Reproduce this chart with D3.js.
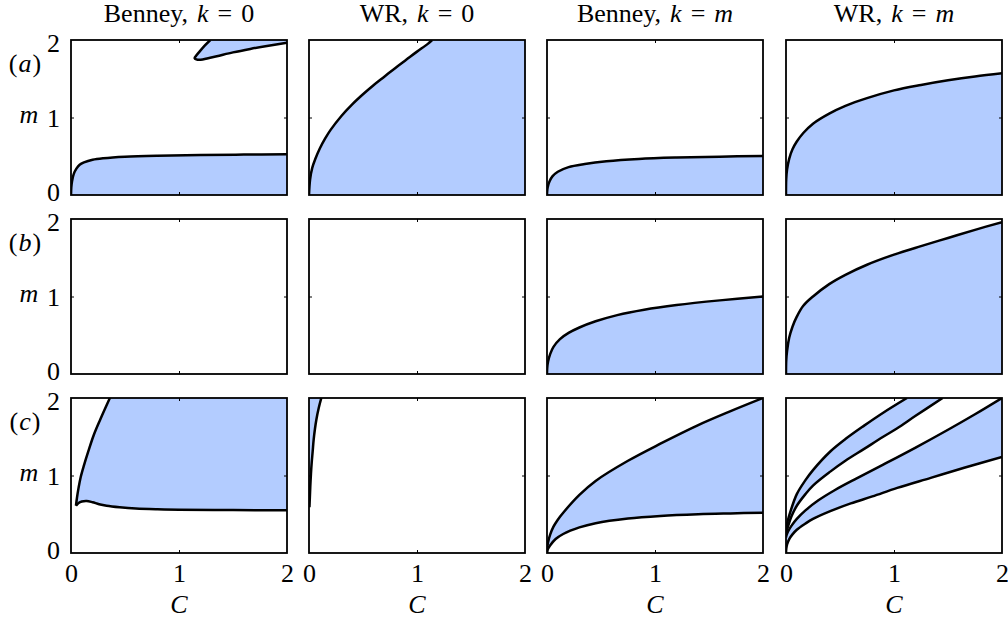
<!DOCTYPE html>
<html><head><meta charset="utf-8">
<script src="https://cdn.jsdelivr.net/npm/d3@7"></script>
<style>
body{margin:0;background:#fff}
text{font-family:"Liberation Serif","Times New Roman",serif;fill:#000}
</style>
</head><body>
<svg id="chart" width="1008" height="628"></svg>
<script>
// ---- labels ----
const modelNames = ["Benney", "WR", "Benney", "WR"];
const kValues = ["0", "0", "m", "m"];
const rowLetters = ["a", "b", "c"];
const tickValues = [0, 1, 2];
const tickLabels = ["0", "1", "2"];
const xLabel = "C";
const yLabel = "m";

// ---- boundary curves, points are [C, m] ----
// row (a)
const aBenneyK0Lower = [[0,0],[0.003,0.1],[0.01,0.18],[0.025,0.27],[0.05,0.34],[0.08,0.39],[0.12,0.42],[0.2,0.455],[0.3,0.475],[0.5,0.495],[0.8,0.508],[1.2,0.516],[1.6,0.521],[2.0,0.525]];
const aBenneyK0Tongue = [[1.29,2.0],[1.24,1.93],[1.19,1.85],[1.155,1.79],[1.145,1.765],[1.16,1.75],[1.2,1.745],[1.27,1.765],[1.35,1.79],[1.5,1.84],[1.66,1.885],[1.8,1.92],[2.0,1.965]];
const aWRK0 = [[0,0],[0.01,0.2],[0.03,0.35],[0.06,0.47],[0.1,0.6],[0.15,0.73],[0.2,0.84],[0.3,1.02],[0.4,1.17],[0.5,1.3],[0.6,1.42],[0.7,1.53],[0.8,1.64],[0.9,1.745],[1.0,1.85],[1.1,1.95],[1.14,2.0]];
const aBenneyKm = [[0,0],[0.003,0.07],[0.01,0.12],[0.025,0.18],[0.05,0.24],[0.1,0.3],[0.2,0.36],[0.35,0.4],[0.55,0.435],[0.85,0.465],[1.2,0.483],[1.6,0.495],[2.0,0.503]];
const aWRKm = [[0,0],[0.002,0.2],[0.01,0.33],[0.03,0.47],[0.06,0.59],[0.1,0.69],[0.16,0.8],[0.25,0.92],[0.4,1.05],[0.55,1.15],[0.75,1.25],[1.0,1.35],[1.25,1.42],[1.5,1.48],[1.75,1.53],[2.0,1.57]];
// row (b)
const bBenneyKm = [[0,0],[0.002,0.08],[0.01,0.16],[0.03,0.26],[0.06,0.35],[0.12,0.45],[0.2,0.53],[0.3,0.6],[0.45,0.68],[0.65,0.76],[0.9,0.83],[1.2,0.89],[1.6,0.95],[2.0,1.0]];
const bWRKm = [[0,0],[0.002,0.17],[0.01,0.3],[0.03,0.47],[0.06,0.61],[0.1,0.74],[0.16,0.88],[0.25,1.0],[0.4,1.16],[0.55,1.28],[0.75,1.41],[1.0,1.54],[1.25,1.65],[1.5,1.755],[1.75,1.86],[2.0,1.96]];
// row (c)
const cBenneyK0Left = [[0.046,0.61],[0.055,0.71],[0.07,0.84],[0.09,0.98],[0.12,1.13],[0.16,1.31],[0.21,1.52],[0.27,1.72],[0.36,2.0]];
const cBenneyK0Lower = [[0.046,0.61],[0.07,0.645],[0.1,0.665],[0.145,0.672],[0.2,0.655],[0.26,0.63],[0.33,0.61],[0.45,0.59],[0.6,0.573],[0.8,0.563],[1.0,0.558],[1.5,0.554],[2.0,0.552]];
const cWRK0 = [[0.004,0.59],[0.008,0.72],[0.012,0.86],[0.018,1.02],[0.025,1.165],[0.034,1.31],[0.043,1.46],[0.055,1.6],[0.068,1.72],[0.09,1.87],[0.114,2.0]];
const cBenneyKmUpper = [[0,0],[0.002,0.07],[0.01,0.14],[0.03,0.24],[0.06,0.34],[0.1,0.43],[0.15,0.52],[0.3,0.75],[0.45,0.93],[0.75,1.19],[1.05,1.41],[1.4,1.65],[1.7,1.83],[2.0,2.0]];
const cBenneyKmLower = [[0,0],[0.003,0.03],[0.01,0.055],[0.03,0.1],[0.08,0.18],[0.15,0.245],[0.3,0.33],[0.45,0.385],[0.75,0.445],[1.05,0.478],[1.4,0.5],[1.7,0.511],[2.0,0.52]];
const cWRKmA = [[0,0.27],[0.005,0.34],[0.015,0.41],[0.04,0.53],[0.1,0.76],[0.18,0.94],[0.25,1.07],[0.41,1.31],[0.55,1.47],[0.72,1.64],[0.9,1.81],[1.12,2.0]];
const cWRKmB = [[0,0.25],[0.005,0.28],[0.02,0.35],[0.05,0.47],[0.1,0.61],[0.18,0.76],[0.25,0.87],[0.41,1.05],[0.55,1.19],[0.72,1.34],[0.9,1.5],[1.03,1.61],[1.2,1.77],[1.45,2.0]];
const cWRKmC = [[0,0.2],[0.005,0.23],[0.02,0.28],[0.05,0.35],[0.1,0.44],[0.18,0.55],[0.3,0.68],[0.45,0.81],[0.65,0.96],[0.9,1.14],[1.2,1.36],[1.5,1.59],[1.75,1.79],[2.0,2.0]];
const cWRKmD = [[0,0],[0.003,0.06],[0.01,0.11],[0.03,0.18],[0.06,0.24],[0.1,0.3],[0.18,0.38],[0.25,0.44],[0.41,0.54],[0.6,0.64],[0.8,0.73],[1.03,0.84],[1.34,0.97],[1.65,1.1],[2.0,1.24]];

// ---- layout ----
const svg = d3.select("#chart");
const colLeft = [71, 309, 547, 786];
const rowTop = [40, 219, 398];
const W = 216, H = 155;
const fillColor = "#b3ccff";
const FS = 26;

const x = d3.scaleLinear().domain([0, 2]).range([0, W]);
const y = d3.scaleLinear().domain([0, 2]).range([H, 0]);
const line = d3.line().x(d => x(d[0])).y(d => y(d[1])).curve(d3.curveCatmullRom.alpha(0.5));

const rev = a => a.slice().reverse();
function outline(parts) {
  let s = "";
  parts.forEach((p, i) => {
    if (Array.isArray(p)) {
      const seg = line(p);
      s += i === 0 ? seg : seg.replace(/^M/, "L");
    } else {
      s += (i === 0 ? "M" : "L") + x(p.p[0]) + "," + y(p.p[1]);
    }
  });
  return s + "Z";
}
const pt = (c, m) => ({p: [c, m]});

const panels = [
  {r:0,c:0, fills:[[aBenneyK0Lower, pt(2,0)], [aBenneyK0Tongue, pt(2,2)]], strokes:[aBenneyK0Lower, aBenneyK0Tongue]},
  {r:0,c:1, fills:[[aWRK0, pt(2,2), pt(2,0)]], strokes:[aWRK0]},
  {r:0,c:2, fills:[[aBenneyKm, pt(2,0)]], strokes:[aBenneyKm]},
  {r:0,c:3, fills:[[aWRKm, pt(2,0)]], strokes:[aWRKm]},
  {r:1,c:0, fills:[], strokes:[]},
  {r:1,c:1, fills:[], strokes:[]},
  {r:1,c:2, fills:[[bBenneyKm, pt(2,0)]], strokes:[bBenneyKm]},
  {r:1,c:3, fills:[[bWRKm, pt(2,0)]], strokes:[bWRKm]},
  {r:2,c:0, fills:[[cBenneyK0Left, pt(2,2), rev(cBenneyK0Lower)]], strokes:[cBenneyK0Left, cBenneyK0Lower]},
  {r:2,c:1, fills:[[cWRK0, pt(0,2), pt(0,0.59)]], strokes:[cWRK0]},
  {r:2,c:2, fills:[[cBenneyKmUpper, rev(cBenneyKmLower)]], strokes:[cBenneyKmUpper, cBenneyKmLower]},
  {r:2,c:3, fills:[[cWRKmA, pt(1.45,2), rev(cWRKmB)], [cWRKmC, rev(cWRKmD)]], strokes:[cWRKmA, cWRKmB, cWRKmC, cWRKmD]}
];

const defs = svg.append("defs");
panels.forEach((P, i) => {
  const g = svg.append("g").attr("transform", `translate(${colLeft[P.c]},${rowTop[P.r]})`);
  defs.append("clipPath").attr("id", "clip" + i).append("rect").attr("width", W).attr("height", H);
  const inner = g.append("g").attr("clip-path", `url(#clip${i})`);
  P.fills.forEach(f => inner.append("path").attr("d", outline(f)).attr("fill", fillColor).attr("stroke", "none"));
  P.strokes.forEach(s => inner.append("path").attr("d", line(s)).attr("fill", "none")
    .attr("stroke", "#000").attr("stroke-width", 2.5).attr("stroke-linejoin", "round"));

  const tk = [1];
  const addTicks = (axis, tr) => {
    const a = g.append("g").attr("transform", tr).call(axis.tickValues(tk).tickSize(-3).tickFormat(""));
    a.select(".domain").remove();
    a.selectAll("line").attr("stroke", "#000").attr("stroke-width", 1);
  };
  addTicks(d3.axisBottom(x), `translate(0,${H})`);
  addTicks(d3.axisTop(x), `translate(0,0)`);
  addTicks(d3.axisLeft(y), `translate(0,0)`);
  addTicks(d3.axisRight(y), `translate(${W},0)`);

  g.append("rect").attr("width", W).attr("height", H).attr("fill", "none")
    .attr("stroke", "#000").attr("stroke-width", 1.8);

  if (P.c === 0) {
    const ya = g.append("g").call(d3.axisLeft(y).tickValues(tickValues).tickSize(0).tickPadding(11)
      .tickFormat((d, j) => tickLabels[j]));
    ya.select(".domain").remove();
    // nudge the bottom "0" up and the top "2" down so stacked panels' labels do not collide
    ya.selectAll("text").attr("font-size", FS).attr("font-family", null)
      .attr("dy", d => d === 0 ? 5.5 : d === 2 ? 11.5 : 8.8);
    g.append("text").attr("x", -42).attr("y", y(1)).attr("dy", "0.22em").attr("text-anchor", "middle")
      .attr("font-size", FS).attr("font-style", "italic").text(yLabel);
    const rl = g.append("text").attr("x", -46).attr("y", 32).attr("text-anchor", "middle").attr("font-size", FS);
    rl.append("tspan").text("(");
    rl.append("tspan").attr("font-style", "italic").attr("dx", 1).text(rowLetters[P.r]);
    rl.append("tspan").attr("dx", 1).text(")");
  }
  if (P.r === 2) {
    const xa = g.append("g").attr("transform", `translate(0,${H})`)
      .call(d3.axisBottom(x).tickValues(tickValues).tickSize(0).tickPadding(11).tickFormat((d, j) => tickLabels[j]));
    xa.select(".domain").remove();
    xa.selectAll("text").attr("font-size", FS).attr("font-family", null);
    g.append("text").attr("x", W / 2).attr("y", H + 60).attr("text-anchor", "middle")
      .attr("font-size", FS).attr("font-style", "italic").text(xLabel);
  }
  if (P.r === 0) {
    const t = g.append("text").attr("x", W / 2).attr("y", -18).attr("text-anchor", "middle").attr("font-size", FS);
    t.append("tspan").text(modelNames[P.c] + ",");
    t.append("tspan").attr("dx", 9).attr("font-style", "italic").text("k");
    t.append("tspan").attr("dx", 9).text("=");
    t.append("tspan").attr("dx", 9).attr("font-style", kValues[P.c] === "m" ? "italic" : "normal").text(kValues[P.c]);
  }
});
</script>
</body></html>
